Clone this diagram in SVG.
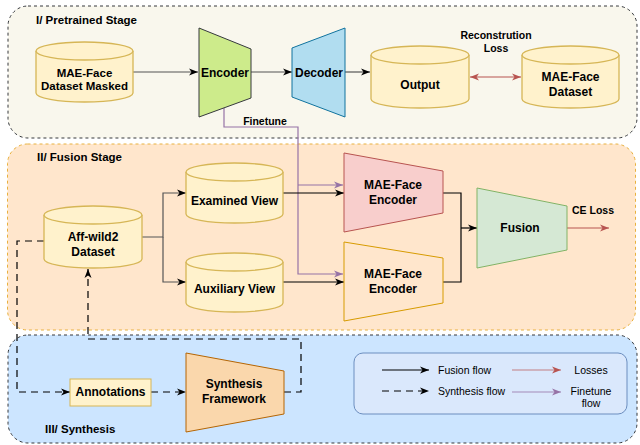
<svg xmlns="http://www.w3.org/2000/svg" width="640" height="445" viewBox="0 0 640 445">
<style>
text{font-family:"Liberation Sans",Arial,sans-serif;fill:#000}
.b{font-weight:bold;font-size:12px;text-anchor:middle}
.st{font-weight:bold;font-size:11.5px}
.sm{font-weight:bold;font-size:10.5px;text-anchor:middle}
.lg{font-size:10.5px}
.cyl{fill:#fff2cc;stroke:#d6b656;stroke-width:1.3}
.ln{fill:none;stroke:#000;stroke-width:1.2}
.gr{stroke:#555}
.red{fill:none;stroke:#b85450;stroke-width:1.2}
.pur{fill:none;stroke:#9673a6;stroke-width:1.2}
.ds{stroke-dasharray:7 5}
</style>
<defs>
<marker id="ab" markerUnits="userSpaceOnUse" markerWidth="10" markerHeight="8" refX="9" refY="4" orient="auto-start-reverse"><path d="M0,0.5 L9,4 L0,7.5 L2.5,4 Z" fill="#000"/></marker>
<marker id="ar" markerUnits="userSpaceOnUse" markerWidth="10" markerHeight="8" refX="9" refY="4" orient="auto-start-reverse"><path d="M0,0.5 L9,4 L0,7.5 L2.5,4 Z" fill="#b85450"/></marker>
<marker id="ap" markerUnits="userSpaceOnUse" markerWidth="10" markerHeight="8" refX="9" refY="4" orient="auto-start-reverse"><path d="M0,0.5 L9,4 L0,7.5 L2.5,4 Z" fill="#9673a6"/></marker>
</defs>

<g id="stage1">
<rect x="8" y="6" width="629" height="132" rx="20" fill="#f9f7ed" stroke="#36393d" stroke-dasharray="3 3"/>
<text class="st" x="36" y="24">I/ Pretrained Stage</text>
</g>
<g id="stage2">
<rect x="7.5" y="144" width="628" height="186" rx="20" fill="#ffe6cc" stroke="#e8b13e" stroke-dasharray="3 3"/>
<text class="st" x="37" y="161">II/ Fusion Stage</text>
</g>
<g id="stage3">
<rect x="8" y="335" width="629" height="108" rx="20" fill="#cce5ff" stroke="#36393d" stroke-dasharray="3 3"/>
<text class="st" x="45" y="433">III/ Synthesis</text>
</g>

<g id="connectors">
<path class="ln gr" d="M133,72 H198" marker-end="url(#ab)"/>
<path class="ln gr" d="M251,72 H292" marker-end="url(#ab)"/>
<path class="ln gr" d="M345,72 H370" marker-end="url(#ab)"/>
<path class="red" d="M470,77 H521" marker-start="url(#ar)" marker-end="url(#ar)"/>
<path class="pur" d="M224,107 V127 H298 V274 H343" marker-end="url(#ap)"/>
<path class="pur" d="M298,185 H343" marker-end="url(#ap)"/>
<path class="ln gr" d="M142,237 H163 V193 H186" marker-end="url(#ab)"/>
<path class="ln gr" d="M163,237 V282 H186" marker-end="url(#ab)"/>
<path class="ln" d="M283,193 H344" marker-end="url(#ab)"/>
<path class="ln" d="M283,282 H344" marker-end="url(#ab)"/>
<path class="ln" d="M443,193 H461 V282 H443"/>
<path class="ln" d="M461,228 H477" marker-end="url(#ab)"/>
<path class="red" d="M567,228 H609" marker-end="url(#ar)"/>
<path class="ln ds" d="M44,241 H17 V392 H70" marker-end="url(#ab)"/>
<path class="ln ds" d="M151,392 H186" marker-end="url(#ab)"/>
<path class="ln ds" d="M284,392 H301 V339 H88 V269" stroke="#4a5563" marker-end="url(#ab)"/>
</g>

<g id="masked">
<path class="cyl" d="M36,51 A48.5,9 0 0 1 133,51 V93 A48.5,9 0 0 1 36,93 Z"/>
<path class="cyl" d="M36,51 A48.5,9 0 0 0 133,51" fill="none"/>
<text class="b" x="84.5" y="77" style="font-size:11.5px">MAE-Face</text>
<text class="b" x="84.5" y="90" style="font-size:11.5px">Dataset Masked</text>
</g>
<g id="encoder">
<path d="M199,28 L251,49 L251,98 L199,117 Z" fill="#cdeb8b" stroke="#36393d"/>
<text class="b" x="225" y="77">Encoder</text>
</g>
<g id="decoder">
<path d="M292,48 L345,28 L345,117 L292,97 Z" fill="#b1ddf0" stroke="#10739e"/>
<text class="b" x="319" y="77">Decoder</text>
</g>
<g id="output">
<path class="cyl" d="M371,55 A49,9 0 0 1 469,55 V99 A49,9 0 0 1 371,99 Z"/>
<path class="cyl" d="M371,55 A49,9 0 0 0 469,55" fill="none"/>
<text class="b" x="420" y="89">Output</text>
</g>
<g id="mae-dataset">
<path class="cyl" d="M522,55 A48.5,9 0 0 1 619,55 V99 A48.5,9 0 0 1 522,99 Z"/>
<path class="cyl" d="M522,55 A48.5,9 0 0 0 619,55" fill="none"/>
<text class="b" x="570.5" y="81">MAE-Face</text>
<text class="b" x="570.5" y="96">Dataset</text>
</g>
<g id="recon-label">
<text class="sm" x="496" y="39">Reconstrution</text>
<text class="sm" x="496" y="52">Loss</text>
</g>
<g id="finetune-label">
<text class="sm" x="265" y="125">Finetune</text>
</g>

<g id="affwild">
<path class="cyl" d="M44,215 A49,9 0 0 1 142,215 V259 A49,9 0 0 1 44,259 Z"/>
<path class="cyl" d="M44,215 A49,9 0 0 0 142,215" fill="none"/>
<text class="b" x="93" y="241">Aff-wild2</text>
<text class="b" x="93" y="256">Dataset</text>
</g>
<g id="examined">
<path class="cyl" d="M186,172 A48.5,9 0 0 1 283,172 V214 A48.5,9 0 0 1 186,214 Z"/>
<path class="cyl" d="M186,172 A48.5,9 0 0 0 283,172" fill="none"/>
<text class="b" x="234.5" y="205">Examined View</text>
</g>
<g id="auxiliary">
<path class="cyl" d="M186,262 A48.5,9 0 0 1 283,262 V303 A48.5,9 0 0 1 186,303 Z"/>
<path class="cyl" d="M186,262 A48.5,9 0 0 0 283,262" fill="none"/>
<text class="b" x="234.5" y="293">Auxiliary View</text>
</g>
<g id="enc-red">
<path d="M344,153 L443,171 L443,213 L344,232 Z" fill="#f8cecc" stroke="#b85450"/>
<text class="b" x="393" y="189">MAE-Face</text>
<text class="b" x="393" y="204">Encoder</text>
</g>
<g id="enc-yellow">
<path d="M344,242 L443,258 L443,303 L344,321 Z" fill="#ffe6cc" stroke="#d79b00"/>
<text class="b" x="393" y="278">MAE-Face</text>
<text class="b" x="393" y="293">Encoder</text>
</g>
<g id="fusion">
<path d="M477,188 L567,206 L567,250 L477,268 Z" fill="#d5e8d4" stroke="#82b366"/>
<text class="b" x="520" y="232">Fusion</text>
</g>
<g id="ce-label">
<text class="sm" x="593" y="214">CE Loss</text>
</g>

<g id="annotations">
<rect x="70" y="379" width="81" height="27" fill="#fff2cc" stroke="#d6b656"/>
<text class="b" x="110.5" y="396">Annotations</text>
</g>
<g id="synthesis">
<path d="M186,353 L284,371 L284,414 L186,432 Z" fill="#fad7ac" stroke="#b46504"/>
<text class="b" x="234" y="388">Synthesis</text>
<text class="b" x="234" y="403">Framework</text>
</g>

<g id="legend">
<rect x="354" y="353" width="273" height="61" rx="9" fill="#dae8fc" stroke="#6c8ebf"/>
<path class="ln" d="M382,370 H429" marker-end="url(#ab)"/>
<path class="ln ds" d="M382,391 H429" marker-end="url(#ab)"/>
<path class="red" d="M512,370 H561" stroke-opacity="0.7" marker-end="url(#ar)"/>
<path class="pur" d="M512,392 H561" stroke-opacity="0.8" marker-end="url(#ap)"/>
<text class="lg" x="438" y="374">Fusion flow</text>
<text class="lg" x="438" y="395">Synthesis flow</text>
<text class="lg" x="591" y="374" text-anchor="middle">Losses</text>
<text class="lg" x="591" y="395" text-anchor="middle">Finetune</text>
<text class="lg" x="591" y="407" text-anchor="middle">flow</text>
</g>
</svg>
